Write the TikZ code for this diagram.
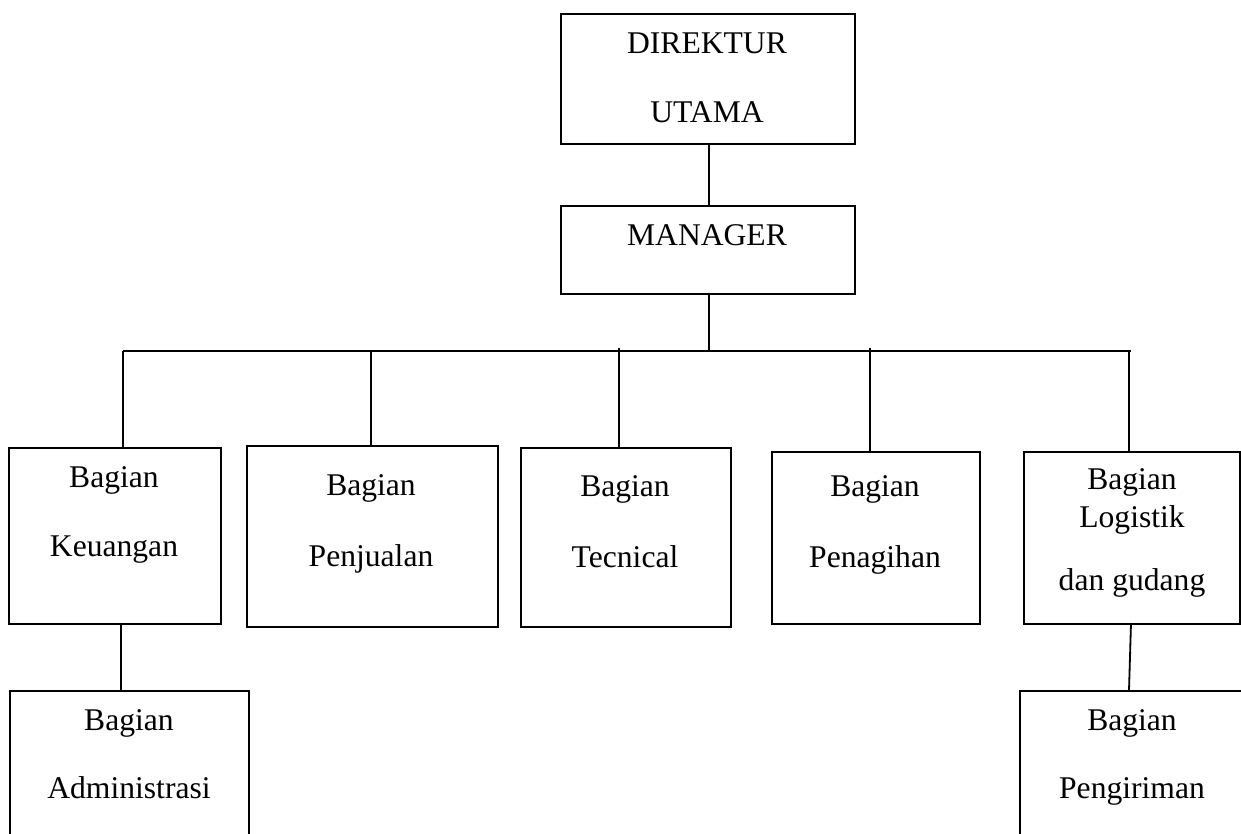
\documentclass[tikz,border=0pt]{standalone}
\usepackage{fontspec}
\setmainfont{Liberation Serif}
\begin{document}
\begin{tikzpicture}[x=1pt,y=-1pt,
  unitbox/.style={draw, line width=1.8pt, inner sep=0pt, anchor=north west},
  lbl/.style={anchor=base, inner sep=0pt, font=\fontsize{31.6}{38}\selectfont},
  link/.style={line width=1.8pt}]
\useasboundingbox (0,0) rectangle (1241,833);
\clip (0,0) rectangle (1241,833);

% boxes
\node[unitbox, minimum width=294pt, minimum height=130pt] (dir) at (560,13) {};
\node[unitbox, minimum width=294pt, minimum height=88pt]  (mgr) at (560,205) {};
\node[unitbox, minimum width=212pt, minimum height=176pt] (keu) at (8,447) {};
\node[unitbox, minimum width=251pt, minimum height=181pt] (pen) at (246,445) {};
\node[unitbox, minimum width=210pt, minimum height=179pt] (tec) at (520,447) {};
\node[unitbox, minimum width=208pt, minimum height=172pt] (tag) at (771,451) {};
\node[unitbox, minimum width=216pt, minimum height=172pt] (log) at (1023,451) {};
\node[unitbox, minimum width=239pt, minimum height=220pt] (adm) at (9,690) {};
\node[unitbox, minimum width=280pt, minimum height=220pt] (kir) at (1019,690) {};

% labels
\node[lbl] (dirA) at (707,53)  {DIREKTUR};
\node[lbl] (dirB) at (707,122) {UTAMA};
\node[lbl] (mgrA) at (707,245) {MANAGER};
\node[lbl] (keuA) at (114,487) {Bagian};
\node[lbl] (keuB) at (114,556) {Keuangan};
\node[lbl] (penA) at (371,495) {Bagian};
\node[lbl] (penB) at (371,566) {Penjualan};
\node[lbl] (tecA) at (625,496) {Bagian};
\node[lbl] (tecB) at (625,567) {Tecnical};
\node[lbl] (tagA) at (875,496) {Bagian};
\node[lbl] (tagB) at (875,567) {Penagihan};
\node[lbl] (logA) at (1132,489) {Bagian};
\node[lbl] (logB) at (1132,527) {Logistik};
\node[lbl] (logC) at (1132,590) {dan gudang};
\node[lbl] (admA) at (129,730) {Bagian};
\node[lbl] (admB) at (129,798) {Administrasi};
\node[lbl] (kirA) at (1132,730) {Bagian};
\node[lbl] (kirB) at (1132,798) {Pengiriman};

% connector points
\coordinate (top)  at (709,143);
\coordinate (busM) at (709,351);
\coordinate (busL) at (123,351);
\coordinate (busR) at (1131,351);
\coordinate (tPen) at (371,351);
\coordinate (tTec) at (619,348);
\coordinate (tTag) at (870,348);
\coordinate (tLog) at (1129,351);
\coordinate (kA)   at (121,623);
\coordinate (lA)   at (1131,623);
\coordinate (lB)   at (1129,690);

% connectors
\draw[link] (top) -- (top |- mgr.north);
\draw[link] (busM |- mgr.south) -- (busM);
\draw[link] (busL) -- (busR);
\draw[link] (busL) -- (busL |- keu.north);
\draw[link] (tPen) -- (tPen |- pen.north);
\draw[link] (tTec) -- (tTec |- tec.north);
\draw[link] (tTag) -- (tTag |- tag.north);
\draw[link] (tLog) -- (tLog |- log.north);
\draw[link] (kA) -- (kA |- adm.north);
\draw[link] (lA) -- (lB);
\end{tikzpicture}
\end{document}
